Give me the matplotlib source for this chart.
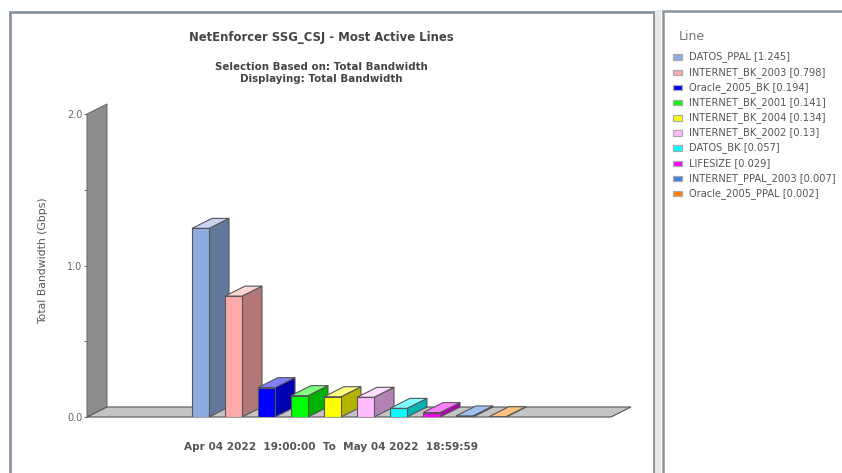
# -*- coding: utf-8 -*-
import matplotlib
matplotlib.use('Agg')
import matplotlib.pyplot as plt
from matplotlib.patches import Polygon, Rectangle
from matplotlib.colors import to_rgb

# Data
lines = ['DATOS_PPAL', 'INTERNET_BK_2003', 'Oracle_2005_BK', 'INTERNET_BK_2001',
         'INTERNET_BK_2004', 'INTERNET_BK_2002', 'DATOS_BK', 'LIFESIZE',
         'INTERNET_PPAL_2003', 'Oracle_2005_PPAL']
values = [1.245, 0.798, 0.194, 0.141, 0.134, 0.13, 0.057, 0.029, 0.007, 0.002]
value_labels = ['1.245', '0.798', '0.194', '0.141', '0.134', '0.13', '0.057', '0.029', '0.007', '0.002']
colors = ['#8fabe0', '#ffaaaa', '#0000ff', '#00ff00', '#ffff00',
          '#ffbbff', '#00ffff', '#ff00ff', '#3f80e0', '#ff8000']
y_ticks = [0.0, 0.5, 1.0, 1.5, 2.0]
y_ticklabels = ['0.0', '', '1.0', '', '2.0']

W, H = 842, 473
plt.rcParams['font.family'] = 'DejaVu Sans'
plt.rcParams['hatch.linewidth'] = 0.5
plt.rcParams['hatch.color'] = '#a8a8a8'
fig = plt.figure(figsize=(W / 100, H / 100), dpi=100)
fig.patch.set_facecolor('white')

# pixel overlay for panels and legend swatches
bg = fig.add_axes([0, 0, 1, 1], zorder=0)
bg.set_xlim(0, W)
bg.set_ylim(H, 0)
bg.axis('off')
bg.add_patch(Rectangle((10, 12), 644, 470, fc='white', ec='#8a949e', lw=2.0))
bg.add_patch(Rectangle((663, 11), 200, 470, fc='white', ec='#8a949e', lw=1.8))
bg.add_patch(Rectangle((655, 10), 6, 470, fc='#e8e8e8', ec='none', hatch='.....'))

# chart axes, x in category units, y in Gbps
px_x = 33.0
px_y = 151.5
ax = fig.add_axes([87 / W, 1 - 417 / H, (631 - 87) / W, (417 - 104) / H], zorder=1)
ax.set_xlim((87 - 200.5) / px_x, (631 - 200.5) / px_x)
ax.set_ylim(0, 313 / px_y)
ax.patch.set_alpha(0)
for s in ax.spines.values():
    s.set_visible(False)
ax.set_xticks([])
ax.set_yticks(y_ticks)
ax.set_yticklabels(y_ticklabels, fontsize=7, color='#666666')
ax.tick_params(axis='y', length=2.5, width=0.7, color='#666666', pad=1)
ax.set_ylabel('Total Bandwidth (Gbps)', fontsize=7.8, color='#555555')
ax.yaxis.set_label_coords(-39 / (631 - 87), (417 - 261) / (417 - 104))

dx = 20 / px_x
dy = 10 / px_y
bw = 17 / px_x
x0, x1 = ax.get_xlim()
front_right = x1 - dx

# wall and floor
ax.add_patch(Polygon([(x0, 0), (x0 + dx, dy), (x0 + dx, 2.0 + dy), (x0, 2.0)],
                     fc='#8c8c8c', ec='#707070', lw=0.8, clip_on=False, zorder=1))
ax.add_patch(Polygon([(x0, 0), (x0 + dx, dy), (x1, dy), (front_right, 0)],
                     fc='#c4c4c4', ec='#555555', lw=0.8, clip_on=False, zorder=1))


def shade(col, f):
    return tuple(c * f for c in to_rgb(col))


def tint(col, f):
    return tuple(c + (1 - c) * f for c in to_rgb(col))


# bars, drawn back faces first
for i, (v, c) in enumerate(zip(values, colors)):
    l, r = i - bw / 2, i + bw / 2
    edge = '#555555'
    z = 3 + i
    ax.add_patch(Polygon([(r, 0), (r + dx, dy), (r + dx, v + dy), (r, v)],
                         fc=shade(c, 0.7), ec=edge, lw=0.8, zorder=z))
    ax.add_patch(Polygon([(l, v), (l + dx, v + dy), (r + dx, v + dy), (r, v)],
                         fc=tint(c, 0.5), ec=edge, lw=0.8, zorder=z))
    ax.add_patch(Rectangle((l, 0), bw, v, fc=c, ec=edge, lw=0.8, zorder=z))

# titles
tc = '#444444'
fig.text(321 / W, 1 - 38 / H, 'NetEnforcer SSG_CSJ - Most Active Lines', fontsize=8.35,
         fontweight='bold', color=tc, ha='center', va='center')
fig.text(321 / W, 1 - 67 / H, 'Selection Based on: Total Bandwidth', fontsize=7.35,
         fontweight='bold', color=tc, ha='center', va='center')
fig.text(321 / W, 1 - 79 / H, 'Displaying: Total Bandwidth', fontsize=7.35,
         fontweight='bold', color=tc, ha='center', va='center')
fig.text(331 / W, 1 - 447 / H, 'Apr 04 2022  19:00:00  To  May 04 2022  18:59:59', fontsize=7.6,
         fontweight='bold', color='#555555', ha='center', va='center')

# legend
fig.text(679 / W, 1 - 37 / H, 'Line', fontsize=9, color='#777777', ha='left', va='center')
for i, (name, val, c) in enumerate(zip(lines, value_labels, colors)):
    y = 57 + i * 15.15
    bg.add_patch(Rectangle((672.5, y - 2.5), 9.5, 5.5, fc=c, ec='#aaaaaa', lw=0.9))
    bg.text(689, y, f'{name} [{val}]', fontsize=7.1, color='#555555', ha='left', va='center')

fig.savefig('out.png', dpi=100)
